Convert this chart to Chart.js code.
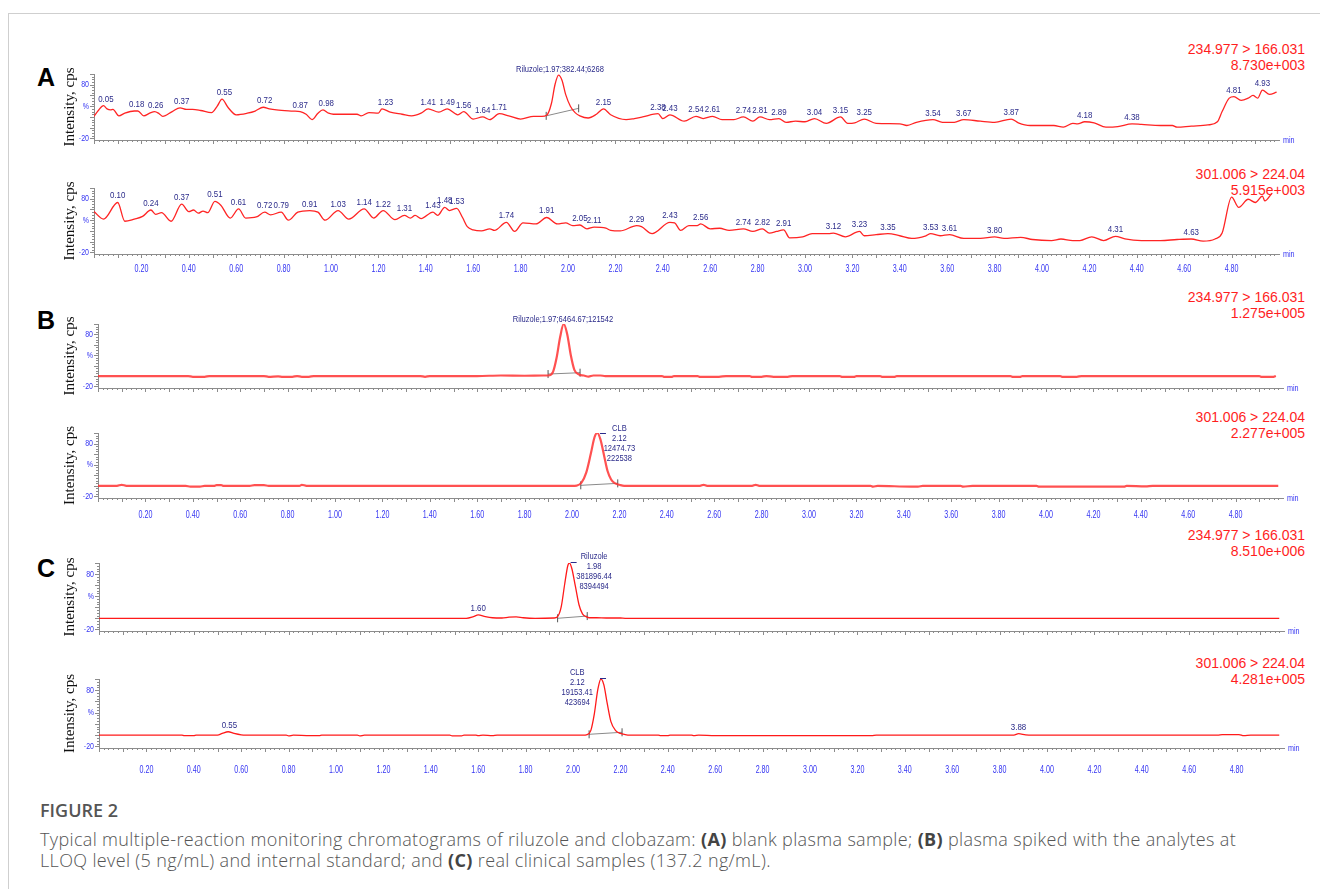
<!DOCTYPE html>
<html>
<head>
<meta charset="utf-8">
<script src="https://cdn.jsdelivr.net/npm/chart.js@4.4.0/dist/chart.umd.min.js"></script>
<style>
  html, body { margin: 0; padding: 0; background: #fff; }
  body { width: 1320px; height: 889px; position: relative; overflow: hidden; font-family: "Liberation Sans", Arial, sans-serif; }
  .frame { position: absolute; left: 8px; top: 13px; right: -2px; bottom: -2px; border-left: 1px solid #cfcfcf; border-top: 1px solid #cfcfcf; }
  canvas { position: absolute; left: 0; }
  .hdr { position: absolute; right: 15px; color: #ff1e1e; font-size: 14px; line-height: 16px; text-align: right; white-space: nowrap; }
  .letter { position: absolute; left: 37px; font-weight: bold; font-size: 25px; line-height: 28px; color: #000; }
  .figt { position: absolute; left: 40px; top: 798px; font-family: "Open Sans", sans-serif; font-weight: 600; font-size: 18px; line-height: 24px; color: #555; }
  .cap { position: absolute; left: 40px; top: 829px; font-family: "Open Sans", sans-serif; font-weight: 300; font-size: 18px; line-height: 21px; letter-spacing: 0.35px; color: #555; white-space: nowrap; }
  .cap b { color: #444; font-weight: 700; }
</style>
</head>
<body>
<div class="frame"></div>

<div class="letter" style="top:63px">A</div>
<div class="letter" style="top:306px">B</div>
<div class="letter" style="top:554px">C</div>

<div class="hdr" style="top:41px">234.977 &gt; 166.031<br>8.730e+003</div>
<div class="hdr" style="top:166px">301.006 &gt; 224.04<br>5.915e+003</div>
<div class="hdr" style="top:289px">234.977 &gt; 166.031<br>1.275e+005</div>
<div class="hdr" style="top:409px">301.006 &gt; 224.04<br>2.277e+005</div>
<div class="hdr" style="top:527px">234.977 &gt; 166.031<br>8.510e+006</div>
<div class="hdr" style="top:655px">301.006 &gt; 224.04<br>4.281e+005</div>

<div class="figt">FIGURE 2</div>
<div class="cap">Typical multiple-reaction monitoring chromatograms of riluzole and clobazam: <b>(A)</b> blank plasma sample; <b>(B)</b> plasma spiked with the analytes at<br>LLOQ level (5 ng/mL) and internal standard; and <b>(C)</b> real clinical samples (137.2 ng/mL).</div>

<script>
// x axis labels (min)
const tickMinutes = [0.2, 0.4, 0.6, 0.8, 1.0, 1.2, 1.4, 1.6, 1.8, 2.0, 2.2, 2.4,
                     2.6, 2.8, 3.0, 3.2, 3.4, 3.6, 3.8, 4.0, 4.2, 4.4, 4.6, 4.8];
// y axis labels (%), the middle one is printed as "%"
const yLabels = [-20, 40, 80];

// A, upper trace: blank plasma, 234.977 > 166.031 (% of 8.730e+003)
const a1Time = [0.00, 0.02, 0.04, 0.055, 0.07, 0.08, 0.105, 0.13, 0.17, 0.185,
  0.21, 0.235, 0.256, 0.275, 0.29, 0.33, 0.363, 0.39, 0.416, 0.45,
  0.496, 0.52, 0.54, 0.565, 0.60, 0.647, 0.68, 0.714, 0.74, 0.77,
  0.84, 0.87, 0.895, 0.92, 0.945, 0.966, 0.99, 1.01, 1.06, 1.11,
  1.127, 1.16, 1.20, 1.215, 1.25, 1.30, 1.34, 1.38, 1.41, 1.455,
  1.49, 1.535, 1.56, 1.60, 1.64, 1.67, 1.71, 1.75, 1.80, 1.855,
  1.89, 1.91, 1.93, 1.945, 1.96, 1.975, 1.99, 2.01, 2.03, 2.05,
  2.085, 2.12, 2.15, 2.18, 2.245, 2.28, 2.315, 2.38, 2.40, 2.43,
  2.49, 2.54, 2.57, 2.61, 2.65, 2.70, 2.74, 2.78, 2.81, 2.85,
  2.89, 2.92, 2.96, 3.00, 3.04, 3.09, 3.15, 3.18, 3.21, 3.25,
  3.30, 3.40, 3.43, 3.47, 3.54, 3.58, 3.63, 3.67, 3.74, 3.80,
  3.87, 3.90, 3.95, 4.05, 4.09, 4.13, 4.15, 4.18, 4.22, 4.27,
  4.32, 4.38, 4.42, 4.50, 4.55, 4.57, 4.63, 4.70, 4.74, 4.76,
  4.79, 4.81, 4.84, 4.87, 4.89, 4.91, 4.93, 4.96, 4.99];
const a1Int = [21, 33, 41, 35, 33, 34, 22, 27, 31, 31,
  22, 27, 30, 26, 21, 30, 37, 34, 34, 32,
  28, 40, 53, 38, 24, 27, 31, 38, 35, 33,
  31, 30, 25, 15, 27, 33, 27, 25, 25, 25,
  22, 28, 27, 35, 29, 25, 22, 27, 35, 29,
  35, 24, 30, 16, 20, 15, 26, 22, 16, 21,
  21, 23, 45, 80, 98, 88, 62, 40, 28, 22,
  18, 25, 35, 24, 15, 17, 20, 26, 17, 24,
  12, 21, 17, 21, 15, 15, 20, 12, 20, 15,
  17, 10, 12, 11, 17, 8, 20, 8, 9, 16,
  8, 7, 4, 10, 15, 10, 10, 15, 12, 10,
  16, 9, 4, 4, 1, 8, 7, 11, 9, 1,
  2, 7, 6, 4, 4, 1, 3, 5, 11, 30,
  55, 58, 51, 55, 60, 55, 70, 62, 66];
const a1BaseTime = [1.908, 2.045];
const a1BaseInt = [22, 36];
const a1Peaks = ['0.05', '0.18', '0.26', '0.37', '0.55', '0.72', '0.87', '0.98', '1.23', '1.41',
  '1.49', '1.56', '1.64', '1.71', '2.15', '2.38', '2.43', '2.54', '2.61', '2.74', '2.81', '2.89',
  '3.04', '3.15', '3.25', '3.54', '3.67', '3.87', '4.18', '4.38', '4.81', '4.93'];

// A, lower trace: 301.006 > 224.04 (% of 5.915e+003)
const a2Time = [0.00, 0.04, 0.10, 0.13, 0.17, 0.205, 0.24, 0.26, 0.285, 0.325,
  0.37, 0.40, 0.42, 0.44, 0.46, 0.48, 0.51, 0.535, 0.575, 0.61,
  0.64, 0.685, 0.72, 0.745, 0.79, 0.82, 0.86, 0.91, 0.945, 0.975,
  1.03, 1.075, 1.14, 1.18, 1.22, 1.27, 1.31, 1.335, 1.355, 1.38,
  1.43, 1.45, 1.48, 1.50, 1.53, 1.555, 1.575, 1.60, 1.635, 1.67,
  1.69, 1.74, 1.775, 1.81, 1.865, 1.91, 1.955, 1.99, 2.02, 2.05,
  2.08, 2.11, 2.16, 2.18, 2.22, 2.29, 2.31, 2.355, 2.43, 2.45,
  2.475, 2.51, 2.545, 2.56, 2.60, 2.64, 2.68, 2.74, 2.78, 2.82,
  2.85, 2.88, 2.91, 2.935, 2.99, 3.03, 3.10, 3.12, 3.17, 3.23,
  3.25, 3.30, 3.35, 3.40, 3.45, 3.51, 3.53, 3.57, 3.61, 3.67,
  3.74, 3.80, 3.84, 3.91, 3.96, 4.04, 4.08, 4.13, 4.16, 4.21,
  4.26, 4.31, 4.35, 4.42, 4.50, 4.57, 4.63, 4.68, 4.73, 4.76,
  4.80, 4.83, 4.87, 4.90, 4.93, 4.94, 4.97];
const a2Int = [56, 42, 73, 38, 42, 47, 59, 51, 54, 38,
  70, 56, 59, 53, 57, 54, 75, 68, 44, 61,
  44, 46, 55, 50, 55, 40, 55, 58, 55, 40,
  58, 42, 61, 44, 58, 41, 49, 44, 49, 43,
  55, 49, 64, 58, 62, 45, 28, 22, 20, 24,
  21, 36, 19, 35, 33, 45, 33, 35, 30, 31,
  24, 27, 25, 21, 20, 30, 28, 15, 36, 35,
  21, 30, 30, 33, 24, 25, 21, 24, 19, 24,
  16, 19, 22, 7, 9, 15, 15, 16, 9, 19,
  11, 13, 15, 11, 6, 11, 15, 11, 13, 6,
  6, 9, 6, 8, 4, 2, 5, 2, 2, 9,
  2, 10, 5, 2, 2, 4, 5, 1, 5, 16,
  83, 64, 79, 73, 85, 76, 90];
const a2Peaks = ['0.10', '0.24', '0.37', '0.51', '0.61', '0.72', '0.79', '0.91', '1.03', '1.14',
  '1.22', '1.31', '1.43', '1.48', '1.53', '1.74', '1.91', '2.05', '2.11', '2.29', '2.43', '2.56',
  '2.74', '2.82', '2.91', '3.12', '3.23', '3.35', '3.53', '3.61', '3.80', '4.31', '4.63'];

// B, upper trace: LLOQ riluzole (% of 1.275e+005)
const b1Time = [0, 0.38, 0.40, 0.45, 0.47, 0.70, 0.72, 0.76, 0.78, 0.82,
  0.84, 0.86, 0.89, 0.91, 1.36, 1.38, 1.40, 1.60, 1.70, 1.80,
  1.88, 1.90, 1.92, 1.935, 1.95, 1.965, 1.98, 1.995, 2.01, 2.03,
  2.05, 2.07, 2.09, 2.12, 2.14, 2.38, 2.39, 2.42, 2.43, 2.53,
  2.54, 2.62, 2.65, 2.75, 2.76, 2.80, 2.82, 2.85, 2.91, 2.93,
  3.13, 3.14, 3.19, 3.20, 3.30, 3.31, 3.36, 3.37, 3.85, 3.86,
  3.89, 3.90, 4.06, 4.07, 4.13, 4.15, 4.90, 4.91, 4.96, 4.97];
const b1Int = [0, 0, -1.5, -1.5, 0, 0, -1.5, -0.5, -1.5, -1.5,
  0, -1.5, -1.5, 0, 0, -1.5, 0, 0, 1, 0.5,
  1, 1, 8, 35, 75, 100, 80, 40, 12, 3,
  1, -1, 1, 1, 0, 0, -1.5, -1.5, 0, 0,
  -1.5, -1.5, 0, 0, -1.5, -1.5, 0, -1.5, -1.5, 0,
  0, -1.5, -1.5, 0, 0, -1.5, -1.5, 0, 0, -1.5,
  -1.5, 0, 0, -1.5, -1.5, 0, 0, -1.5, -1.5, 0];
const b1BaseTime = [1.899, 2.034];
const b1BaseInt = [3.8, 6.4];

// B, lower trace: internal standard clobazam (% of 2.277e+005)
const b2Time = [0, 0.08, 0.10, 0.12, 0.37, 0.39, 0.43, 0.45, 0.49, 0.50,
  0.52, 0.53, 0.64, 0.66, 0.70, 0.72, 0.85, 0.86, 0.88, 2.00,
  2.02, 2.04, 2.06, 2.08, 2.095, 2.107, 2.12, 2.135, 2.15, 2.165,
  2.18, 2.20, 2.22, 2.54, 2.555, 2.57, 2.76, 2.775, 2.79, 3.26,
  3.27, 3.29, 3.43, 3.46, 3.48, 3.64, 3.65, 3.69, 3.96, 3.97,
  4.33, 4.34, 4.42, 4.45, 4.98];
const b2Int = [0, 0, 2, 0, 0, -1.5, -1.5, 0, 0, 1.5,
  1.5, 0, 0, 1.5, 1.5, 0, 0, 2, 0, 0,
  0.5, 6, 25, 62, 92, 100, 88, 58, 28, 12,
  5, 2, 0, 0, 2, 0, 0, 2, 0, 0,
  -1.5, 0, -1.5, -1.5, 0, 0, -1.5, 0, 0, -1.5,
  -1.5, 0, -1, 0, 0];
const b2BaseTime = [2.037, 2.193];
const b2BaseInt = [1, 4.7];

// C, upper trace: clinical sample riluzole (% of 8.510e+006)
const c1Time = [0, 1.55, 1.58, 1.60, 1.63, 1.66, 1.70, 1.73, 1.76, 1.79,
  1.84, 1.92, 1.935, 1.95, 1.965, 1.978, 1.985, 1.995, 2.01, 2.025,
  2.04, 2.055, 2.07, 2.10, 2.14, 2.20, 2.22, 4.98];
const c1Int = [0, 0, 3, 6, 3, 1, 0.5, 2, 2.5, 1,
  0, 0.5, 3, 20, 62, 95, 100, 90, 58, 25,
  8, 3, 1, 1, 0.5, 0.5, 0, 0];
const c1BaseTime = [1.935, 2.06];
const c1BaseInt = [0, 4];

// C, lower trace: clinical sample clobazam (% of 4.281e+005)
const c2Time = [0, 0.35, 0.36, 0.40, 0.41, 0.50, 0.52, 0.545, 0.57, 0.60,
  0.62, 0.79, 0.80, 0.82, 0.89, 0.93, 0.94, 1.09, 1.10, 1.12,
  1.48, 1.49, 1.53, 1.54, 1.59, 1.60, 1.62, 1.66, 1.68, 2.04,
  2.06, 2.075, 2.09, 2.105, 2.118, 2.13, 2.145, 2.16, 2.18, 2.20,
  2.22, 2.24, 2.36, 2.37, 2.40, 2.41, 2.50, 2.51, 2.53, 2.60,
  3.26, 3.28, 3.86, 3.88, 3.91, 3.94, 4.72, 4.74, 4.81, 4.83,
  4.86, 4.98];
const c2Int = [0, 0, -1, -1, 0, 0, 3, 6, 3, 0.5,
  0, 0, -1.5, 0, -1, -1, 0, 0, -1.5, 0,
  0, -1.5, -1.5, 0, 0, -1, 0, -1, 0, 0,
  1, 8, 38, 82, 100, 90, 55, 24, 8, 3,
  1, 0, 0, -1, -1, 0, 0, -1, 0, -1,
  -1, 0, 0, 2.5, 0.5, 0, 0, 1, 1, -1,
  0, 0];
const c2BaseTime = [2.068, 2.207];
const c2BaseInt = [1.4, 5];

const PX_PER_MIN = 237;
const TOP_PAD = 34;
const AXIS_BOX = 36;
const BLUE = '#3535f2';
const NAVY = '#2b2b8a';
const GREY = '#8c8c8c';
const SANS = '"Liberation Sans", Arial, sans-serif';

// the instrument software prints its labels in a very narrow face
function squeeze(ctx, s, x, y, k) {
  ctx.save();
  ctx.translate(x, y);
  ctx.scale(k, 1);
  ctx.fillText(s, 0, 0);
  ctx.restore();
}

// axis ticks and labels, "min", peak retention-time labels and peak notes
const chrom = {
  id: 'chrom',
  afterDraw(chart, args, o) {
    const {ctx, chartArea: a, scales: {x, y}} = chart;
    ctx.save();
    ctx.strokeStyle = GREY;
    ctx.lineWidth = 1;
    ctx.beginPath();
    for (let i = 0; i < 250; i++) {
      const px = Math.round(x.getPixelForValue(i * 0.02)) + 0.5;
      const len = i % 5 === 0 ? 4 : 2;
      ctx.moveTo(px, a.bottom);
      ctx.lineTo(px, a.bottom + len);
    }
    for (let v = -20; v <= 100; v += 5) {
      const py = Math.round(y.getPixelForValue(v)) + 0.5;
      const len = v % 20 === 0 ? 4 : 2;
      ctx.moveTo(a.left - len, py);
      ctx.lineTo(a.left, py);
    }
    ctx.stroke();

    ctx.fillStyle = BLUE;
    ctx.textBaseline = 'middle';
    ctx.font = '9px ' + SANS;
    ctx.textAlign = 'left';
    squeeze(ctx, 'min', a.right + 4, a.bottom + 1, 0.8);

    ctx.textAlign = 'right';
    ctx.font = '9px ' + SANS;
    yLabels.forEach(v => squeeze(ctx, v === 40 ? '%' : String(v), a.left - 5, y.getPixelForValue(v), 0.78));

    if (o.labels) {
      ctx.textAlign = 'center';
      ctx.font = '10.5px ' + SANS;
      tickMinutes.forEach(t => squeeze(ctx, t.toFixed(2), x.getPixelForValue(t), a.bottom + o.labelGap, 0.68));
    }

    const pts = chart.data.datasets[0].data;
    ctx.fillStyle = NAVY;
    ctx.font = '9px ' + SANS;
    ctx.textAlign = 'center';
    ctx.textBaseline = 'bottom';
    (o.peaks || []).forEach(s => {
      const t = parseFloat(s);
      let top = -Infinity;
      pts.forEach(p => { if (Math.abs(p.x - t) <= 0.025) top = Math.max(top, p.y); });
      squeeze(ctx, s, x.getPixelForValue(t), y.getPixelForValue(top) - 2, 0.88);
    });

    ctx.textBaseline = 'middle';
    (o.notes || []).forEach(n => {
      n.lines.forEach((s, i) => squeeze(ctx, s, x.getPixelForValue(n.t), y.getPixelForValue(n.v) + i * 10, 0.84));
      if (n.dash) {
        const dx = x.getPixelForValue(n.dash[0]), dy = Math.round(y.getPixelForValue(n.dash[1])) + 0.5;
        ctx.strokeStyle = NAVY;
        ctx.beginPath();
        ctx.moveTo(dx, dy);
        ctx.lineTo(dx + 6, dy);
        ctx.stroke();
      }
    });
    ctx.restore();
  }
};

function panel(p) {
  const cv = document.createElement('canvas');
  cv.width = 1320;
  cv.height = TOP_PAD + p.h + AXIS_BOX;
  cv.style.top = (p.top - TOP_PAD) + 'px';
  document.body.appendChild(cv);

  new Chart(cv, {
    type: 'line',
    data: {
      datasets: [{
        data: p.time.map((t, i) => ({x: t, y: p.int[i]})),
        borderColor: p.color,
        borderWidth: p.width,
        pointRadius: 0,
        cubicInterpolationMode: 'monotone',
        fill: false
      }, {
        data: p.baseTime.map((t, i) => ({x: t, y: p.baseInt[i]})),
        borderColor: '#8a8a8a',
        borderWidth: 1,
        tension: 0,
        pointStyle: 'line',
        rotation: 90,
        pointRadius: 4,
        pointBorderColor: '#555',
        pointBorderWidth: 1
      }]
    },
    options: {
      responsive: false,
      animation: false,
      events: [],
      layout: {padding: {left: 0, right: 1320 - p.x0 - 5 * PX_PER_MIN, top: TOP_PAD, bottom: 0}},
      plugins: {
        legend: {display: false},
        tooltip: {enabled: false},
        chrom: {peaks: p.peaks, notes: p.notes, labels: p.labels, labelGap: p.labelGap}
      },
      scales: {
        x: {
          type: 'linear', min: 0, max: 5,
          grid: {display: false, drawTicks: false},
          border: {color: GREY},
          ticks: {display: false},
          afterFit: s => { s.height = AXIS_BOX; }
        },
        y: {
          type: 'linear', min: -23, max: 100,
          grid: {display: false, drawTicks: false},
          border: {color: GREY},
          ticks: {display: false},
          title: {
            display: true, text: 'Intensity, cps', color: '#111',
            font: {family: '"Liberation Serif", "Times New Roman", serif', size: 15},
            padding: {top: 61, bottom: 0}
          },
          afterFit: s => { s.width = p.x0; }
        }
      }
    },
    plugins: [chrom]
  });
}

panel({top: 74, h: 66, x0: 94, time: a1Time, int: a1Int, baseTime: a1BaseTime, baseInt: a1BaseInt,
  peaks: a1Peaks, notes: [{t: 1.966, v: 107.5, lines: ['Riluzole;1.97;382.44;6268']}],
  color: '#ff2424', width: 1.3, labels: false});
panel({top: 188, h: 66, x0: 94, time: a2Time, int: a2Int, baseTime: [], baseInt: [],
  peaks: a2Peaks, notes: [], color: '#ff2424', width: 1.3, labels: true, labelGap: 15});
panel({top: 324, h: 64, x0: 98, time: b1Time, int: b1Int, baseTime: b1BaseTime, baseInt: b1BaseInt,
  peaks: [], notes: [{t: 1.962, v: 109.5, lines: ['Riluzole;1.97;6464.67;121542']}],
  color: 'rgba(255,50,50,0.85)', width: 2.2, labels: false});
panel({top: 433, h: 65, x0: 98, time: b2Time, int: b2Int, baseTime: b2BaseTime, baseInt: b2BaseInt,
  peaks: [], notes: [{t: 2.2, v: 109.4, lines: ['CLB', '2.12', '12474.73', '222538'], dash: [2.118, 100]}],
  color: 'rgba(255,50,50,0.85)', width: 2.2, labels: true, labelGap: 17});
panel({top: 563, h: 68, x0: 99, time: c1Time, int: c1Int, baseTime: c1BaseTime, baseInt: c1BaseInt,
  peaks: ['1.60'], notes: [{t: 2.089, v: 110.9, lines: ['Riluzole', '1.98', '381896.44', '8394494'], dash: [1.99, 101.8]}],
  color: '#ff1a1a', width: 1.3, labels: false});
panel({top: 679, h: 69, x0: 99, time: c2Time, int: c2Int, baseTime: c2BaseTime, baseInt: c2BaseInt,
  peaks: ['0.55', '3.88'], notes: [{t: 2.018, v: 110.7, lines: ['CLB', '2.12', '19153.41', '423694'], dash: [2.114, 101.8]}],
  color: '#ff1a1a', width: 1.3, labels: true, labelGap: 22});
</script>
</body>
</html>
